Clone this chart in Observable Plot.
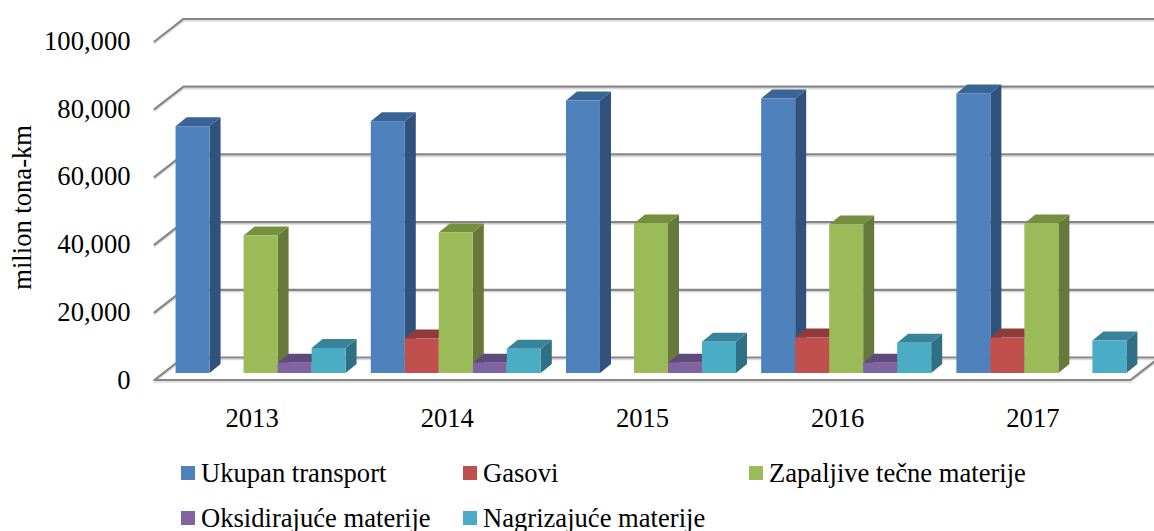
<!DOCTYPE html>
<html>
<head>
<meta charset="utf-8">
<script src="https://cdn.jsdelivr.net/npm/d3@7"></script>
<script src="https://cdn.jsdelivr.net/npm/@observablehq/plot@0.6"></script>
<style>
html,body{margin:0;padding:0;background:#fff;overflow:hidden}
#wrap{position:relative;width:1154px;height:531px;font-family:"Liberation Serif",serif;color:#000}
#wrap svg{display:block}
.lg{position:absolute;font-size:26.6px;line-height:30px;white-space:nowrap}
.lg i{position:absolute;left:-20px;top:8px;width:14px;height:14px}
</style>
</head>
<body>
<div id="wrap"></div>
<script>
const years = ["2013","2014","2015","2016","2017"];
const yTicks = [0,20000,40000,60000,80000,100000];
const ukupan = [72900,74400,80500,81100,82600];
const gasovi = [null,10200,null,10500,10500];
const zapaljive = [40600,41500,44200,43900,44200];
const oksidirajuce = [3050,3050,3050,3050,null];
const nagrizajuce = [7400,7200,9250,8950,9600];
const seriesNames = ["Ukupan transport","Gasovi","Zapaljive tečne materije","Oksidirajuće materije","Nagrizajuće materije"];
const seriesValues = [ukupan,gasovi,zapaljive,oksidirajuce,nagrizajuce];
const front = ["#4F81BD","#C0504D","#9BBB59","#8064A2","#4BACC6"];
const side  = ["#30527D","#7C3432","#66783A","#534169","#2F7084"];
const top_  = ["#3B6496","#8F3B39","#75903F","#604A7C","#38839A"];

// depth expressed in data units of the x (band index) and y scales
const wallDX = 0.1486, wallDY = 6650;
const barOffX = 0.046, barOffY = 1920;
const barDX = 0.0564, barDY = 2660;
const barW = 0.1742, groupPad = (1 - 5 * barW) / 2;
const wallEnd = 5.1225;
const grid = "#868686";
const gridShadow = "#d9d9d9";

const marks = [];
const wallLines = yTicks.map(t => [[0,t],[wallDX,t+wallDY],[wallEnd,t+wallDY]]);
const floorLine = [[0,0],[5,0],[wallEnd,wallDY*(wallEnd-5)/wallDX]];
for (const l of [...wallLines, floorLine]) {
  marks.push(Plot.line(l,{x:d=>d[0],y:d=>d[1],stroke:gridShadow,strokeWidth:1.5,dy:2}));
  marks.push(Plot.line(l,{x:d=>d[0],y:d=>d[1],stroke:grid,strokeWidth:2.2}));
}

years.forEach((yr,i)=>{
  seriesValues.forEach((vals,s)=>{
    const v = vals[i];
    if (v == null) return;
    const x1 = i + groupPad + s*barW + barOffX, x2 = x1 + barW;
    const y1 = barOffY, y2 = v + barOffY;
    marks.push(Plot.areaY([{x:x2,a:y1,b:y2},{x:x2+barDX,a:y1+barDY,b:y2+barDY}],{x:"x",y1:"a",y2:"b",fill:side[s]}));
    marks.push(Plot.areaX([{y:y2,a:x1,b:x2},{y:y2+barDY,a:x1+barDX,b:x2+barDX}],{y:"y",x1:"a",x2:"b",fill:top_[s]}));
    marks.push(Plot.rect([{x1,x2,y1,y2}],{x1:"x1",x2:"x2",y1:"y1",y2:"y2",fill:front[s]}));
  });
});

marks.push(Plot.axisY({ticks:yTicks,tickSize:0,tickPadding:24,tickFormat:d3.format(","),fontSize:26.6,label:null,textAnchor:"end"}));
marks.push(Plot.axisX({ticks:years.map((_,i)=>i+0.5),tickSize:0,tickPadding:28,tickFormat:d=>years[Math.floor(d)],fontSize:26.6,label:null}));
marks.push(Plot.text(["milion tona-km"],{x:()=>0,y:()=>51000,rotate:-90,dx:-132,fontSize:26.6,fill:"#000"}));

const chart = Plot.plot({
  width:1154,height:445,
  marginLeft:154,marginRight:24,marginTop:41,marginBottom:65.5,
  style:{fontFamily:"Liberation Serif, serif",background:"#fff",color:"#000",overflow:"hidden"},
  x:{type:"linear",domain:[0,5]},
  y:{type:"linear",domain:[0,100000]},
  marks
});
const wrap = document.getElementById("wrap");
wrap.appendChild(chart);

const legendPos = [[201,458],[483,458],[769,458],[201,503],[483,503]];
seriesNames.forEach((n,s)=>{
  const d = document.createElement("div");
  d.className="lg";
  d.style.left=legendPos[s][0]+"px";
  d.style.top=legendPos[s][1]+"px";
  const sw=document.createElement("i");
  sw.style.background=front[s];
  d.appendChild(sw);
  d.appendChild(document.createTextNode(n));
  wrap.appendChild(d);
});
</script>
</body>
</html>
